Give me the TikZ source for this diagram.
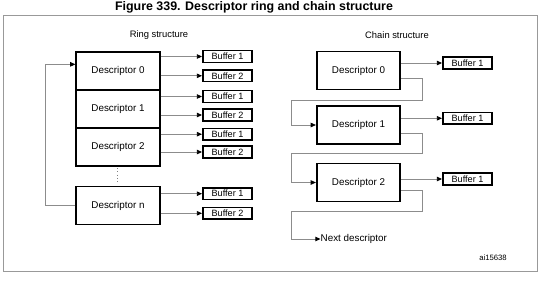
\documentclass[tikz,border=0pt]{standalone}
\usepackage{fontspec}
\setmainfont{Liberation Sans}
\usetikzlibrary{arrows.meta}

\begin{document}
\begin{tikzpicture}[x=0.3mm, y=-0.3mm,
    desc/.style={draw=black, line width=1.6pt, minimum width=25mm, minimum height=11.4mm,
        inner sep=0pt, font=\fontsize{8.4}{10}\selectfont},
    buf/.style={draw=black, line width=1.4pt, minimum width=14.8mm, minimum height=3.5mm,
        inner sep=0pt, font=\fontsize{7.8}{9}\selectfont},
    conn/.style={draw=black!45, line width=0.7pt, -{Triangle[color=black, length=4.4pt, width=3.8pt]}},
    lbl/.style={font=\fontsize{8}{9.5}\selectfont}]
    \useasboundingbox (0,0) rectangle (553,280);

    % Titre et cadre
    \node[font=\bfseries\fontsize{10.6}{12}\selectfont] (titre) at (254,7.5) {Figure 339. Descriptor ring and chain structure};
    \draw[black!40, line width=0.8pt] (3.5,15) rectangle (537,271.5);

    % Anneau
    \node[lbl] (ring) at (159,35) {Ring structure};
    \node[desc] (rd0) at (118,71) {Descriptor 0};
    \node[desc] (rd1) at (118,109) {Descriptor 1};
    \node[desc] (rd2) at (118,147) {Descriptor 2};
    \node[desc] (rdn) at (118,205.5) {Descriptor n};
    \draw[black!50, dotted, thick] (117,168) -- (117,183);

    % Tampons de l'anneau
    \foreach \d/\ya/\yb in {0/56.5/75.8, 1/96.5/115, 2/134.2/152, n/193.7/213.3} {
        \node[buf] (rb\d-1) at (227.5,\ya) {Buffer 1};
        \node[buf] (rb\d-2) at (227.5,\yb) {Buffer 2};
        \draw[conn] (rb\d-1.west -| rd\d.east) -- (rb\d-1.west);
        \draw[conn] (rb\d-2.west -| rd\d.east) -- (rb\d-2.west);
    }

    % Retour vers le premier descripteur
    \draw[conn] (rdn.west) -- ++(-29.5,0) |- ([yshift=2mm]rd0.west);

    % Chaine
    \node[lbl] (chain) at (397,35) {Chain structure};
    \node[desc] (cd0) at (358.5,70.5) {Descriptor 0};
    \node[desc] (cd1) at (358.5,125) {Descriptor 1};
    \node[desc] (cd2) at (358.5,182.5) {Descriptor 2};
    \node[lbl, font=\fontsize{8.4}{10}\selectfont, anchor=west, inner sep=0pt] (nxt) at (320.5,239) {Next descriptor};

    \foreach \d/\y in {0/63, 1/118.3, 2/179} {
        \node[buf] (cb\d) at (467.5,\y) {Buffer 1};
        \draw[conn] (cb\d.west -| cd\d.east) -- (cb\d.west);
    }

    % Liens entre descripteurs
    \draw[conn] ([yshift=-2.5mm]cd0.east) -| (422.5,100) -- (291.5,100) |- (cd1.west);
    \draw[conn] ([yshift=-2.5mm]cd1.east) -| (422.5,153.3) -- (291.5,153.3) |- (cd2.west);
    \draw[conn] ([yshift=-2.5mm]cd2.east) -| (422.5,211.5) -- (291.5,211.5) |- (nxt.west);

    \node[font=\fontsize{6.6}{8}\selectfont] (ref) at (493,258) {ai15638};
\end{tikzpicture}
\end{document}
